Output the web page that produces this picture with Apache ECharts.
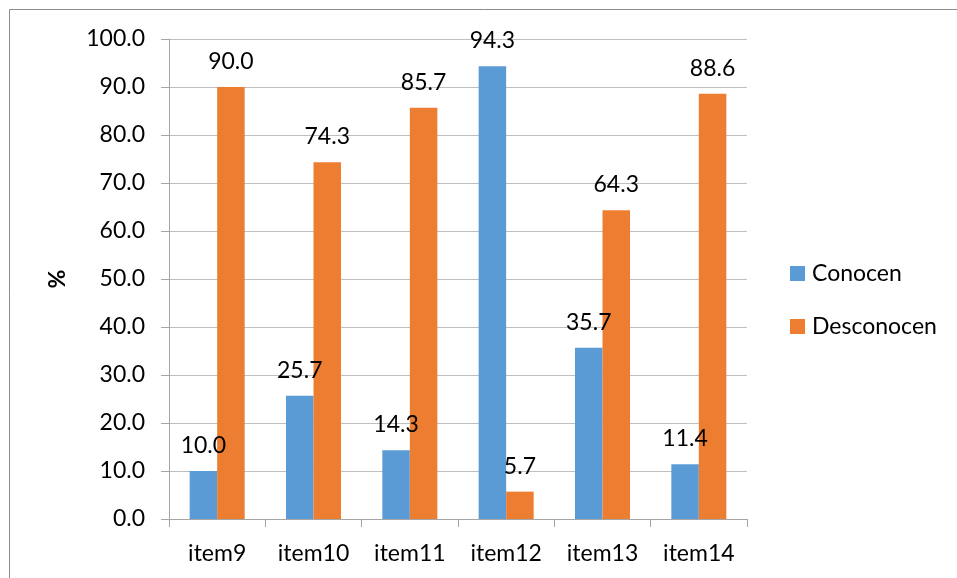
<!DOCTYPE html>
<html>
<head>
<meta charset="utf-8">
<style>
  html, body { margin: 0; padding: 0; background: #fff; }
  #chart { width: 957px; height: 578px; }
</style>
<script src="https://cdn.jsdelivr.net/npm/echarts@6/dist/echarts.min.js"></script>
</head>
<body>
<div id="chart"></div>
<script>
const categories = ['item9', 'item10', 'item11', 'item12', 'item13', 'item14'];
const conocen = [10.0, 25.7, 14.3, 94.3, 35.7, 11.4];
const desconocen = [90.0, 74.3, 85.7, 5.7, 64.3, 88.6];
const seriesNames = ['Conocen', 'Desconocen'];

const FONT = 'Lato, "Open Sans", sans-serif';
const chart = echarts.init(document.getElementById('chart'), null, { renderer: 'canvas' });

const labelStyle = {
  show: true,
  position: 'top',
  distance: 14,
  fontFamily: FONT,
  fontSize: 23,
  color: '#000',
  formatter: p => p.value.toFixed(1)
};

chart.setOption({
  animation: false,
  graphic: [{
    type: 'rect',
    shape: { x: 9.5, y: 9.5, width: 960, height: 600 },
    style: { fill: 'none', stroke: '#8c8c8c', lineWidth: 1 }
  }],
  grid: { left: 169, right: 210, top: 39, bottom: 59 },
  legend: {
    orient: 'vertical',
    left: 790,
    top: 262,
    padding: 0,
    itemWidth: 15,
    itemHeight: 15,
    itemGap: 30,
    icon: 'rect',
    textStyle: { fontFamily: FONT, fontSize: 23, color: '#000', padding: [0, 0, 0, 2] },
    data: seriesNames
  },
  xAxis: {
    type: 'category',
    data: categories,
    axisLine: { lineStyle: { color: '#a6a6a6', width: 1 } },
    axisTick: { show: true, length: 8, lineStyle: { color: '#a6a6a6' } },
    axisLabel: { fontFamily: FONT, fontSize: 23, color: '#000', margin: 23 }
  },
  yAxis: {
    type: 'value',
    min: 0,
    max: 100,
    interval: 10,
    name: '%',
    nameLocation: 'middle',
    nameGap: 100,
    nameRotate: 90,
    nameTextStyle: { fontFamily: FONT, fontSize: 23, fontWeight: 'bold', color: '#000' },
    axisLine: { show: true, lineStyle: { color: '#a6a6a6', width: 1 } },
    axisTick: { show: true, length: 8, inside: false, lineStyle: { color: '#a6a6a6' } },
    axisLabel: { fontFamily: FONT, fontSize: 23, color: '#000', margin: 24, formatter: v => v.toFixed(1) },
    splitLine: { show: true, lineStyle: { color: '#bfbfbf', width: 1 } }
  },
  series: [
    {
      name: seriesNames[0],
      type: 'bar',
      data: conocen,
      barWidth: 27.5,
      barGap: '0%',
      itemStyle: { color: '#5b9bd5' },
      label: labelStyle
    },
    {
      name: seriesNames[1],
      type: 'bar',
      data: desconocen,
      barWidth: 27.5,
      barGap: '0%',
      itemStyle: { color: '#ed7d31' },
      label: labelStyle
    }
  ]
});
</script>
</body>
</html>
